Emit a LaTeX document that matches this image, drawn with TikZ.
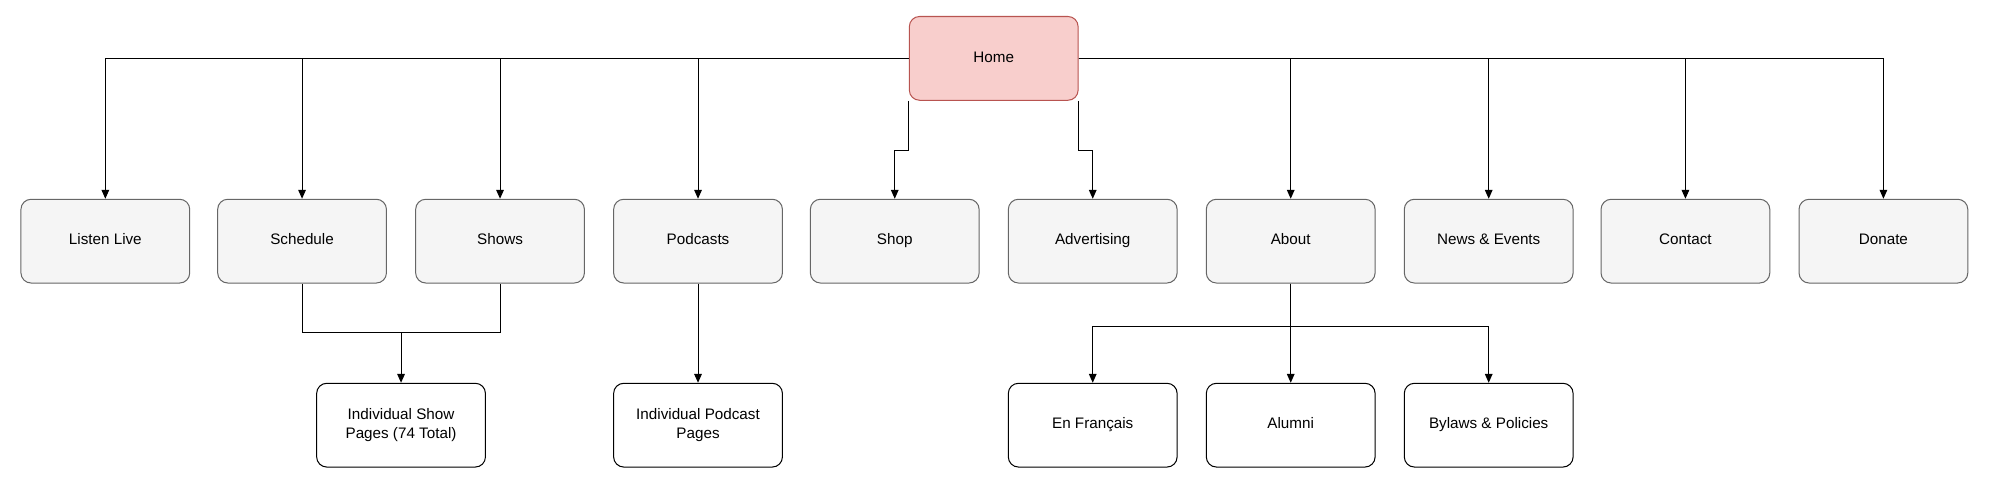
\documentclass[tikz,border=0pt]{standalone}
\usepackage{fontspec}
\setmainfont{Liberation Sans}
\usetikzlibrary{arrows.meta}
\definecolor{homefill}{HTML}{F8CECC}
\definecolor{homedraw}{HTML}{B85450}
\definecolor{gfill}{HTML}{F5F5F5}
\definecolor{gdraw}{HTML}{666666}
\begin{document}
\begin{tikzpicture}[x=1pt,y=-1pt,
  box/.style={draw, rounded corners=8pt, minimum width=133pt, minimum height=66pt, align=center, font=\fontsize{12}{15}\selectfont, line width=0.8pt, inner sep=2pt},
  one/.style={text height=8.6pt, text depth=2.6pt},
  gbox/.style={box, one, fill=gfill, draw=gdraw},
  wbox/.style={box, fill=white, draw=black},
  hbox/.style={box, one, fill=homefill, draw=homedraw},
  con/.style={draw, line width=0.8pt, -{Triangle[length=7pt,width=6pt]}},
  lin/.style={draw, line width=0.8pt}]
\useasboundingbox (0,0) rectangle (1568,386);
\node[hbox] (home) at (783,46) {Home};
\node[gbox] (listen) at (83,190) {Listen Live};
\node[gbox] (sched) at (238,190) {Schedule};
\node[gbox] (shows) at (394,190) {Shows};
\node[gbox] (pod) at (550,190) {Podcasts};
\node[gbox] (shop) at (705,190) {Shop};
\node[gbox] (adv) at (861,190) {Advertising};
\node[gbox] (about) at (1017,190) {About};
\node[gbox] (news) at (1173,190) {News \& Events};
\node[gbox] (contact) at (1328,190) {Contact};
\node[gbox] (donate) at (1484,190) {Donate};
\node[wbox] (ind) at (316,335) {Individual Show\\Pages (74 Total)};
\node[wbox] (indp) at (550,335) {Individual Podcast\\Pages};
\node[wbox, one] (fr) at (861,335) {En Français};
\node[wbox, one] (alum) at (1017,335) {Alumni};
\node[wbox, one] (bylaws) at (1173,335) {Bylaws \& Policies};
\foreach \n in {listen,sched,shows,pod} \draw[con] (home.west) -| (\n.north);
\foreach \n in {about,news,contact,donate} \draw[con] (home.east) -| (\n.north);
\coordinate (s1) at (home.south west);
\coordinate (s2) at (home.south east);
\draw[con] (s1) -- ++(0,39) -| (shop.north);
\draw[con] (s2) -- ++(0,39) -| (adv.north);
\draw[lin] (sched.south) |- (shows.south |- 0,262) -- (shows.south);
\draw[con] (sched.south |- 0,262) -| (ind.north);
\draw[con] (pod) -- (indp);
\draw[con] (about.south) -- ++(0,34) -| (fr.north);
\draw[con] (about.south) -- ++(0,34) -| (bylaws.north);
\draw[con] (about) -- (alum);
\end{tikzpicture}
\end{document}
